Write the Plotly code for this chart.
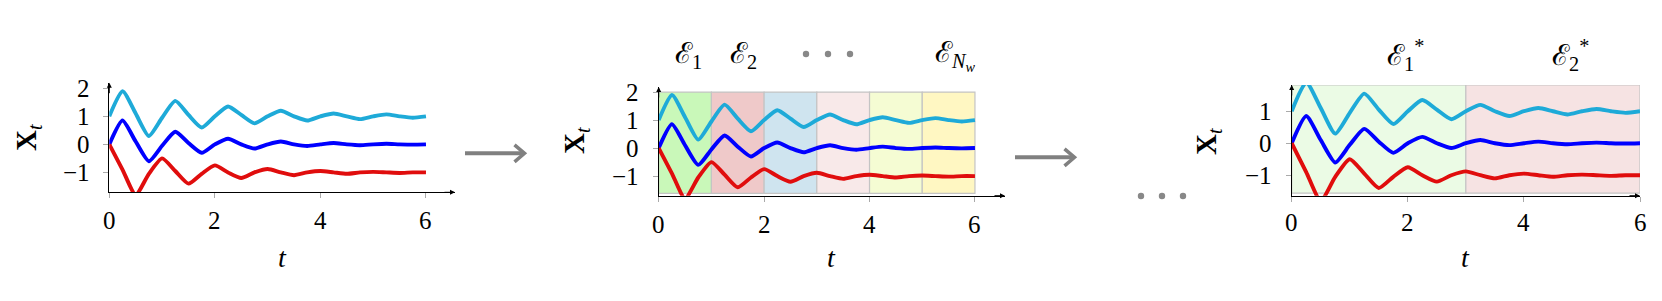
import plotly.graph_objects as go

# ---------------- data ----------------
t = [0.0, 0.25, 0.5, 0.75, 1.0, 1.25, 1.5, 1.75, 2.0, 2.25, 2.5, 2.75, 3.0,
     3.25, 3.5, 3.75, 4.0, 4.25, 4.5, 4.75, 5.0, 5.25, 5.5, 5.75, 6.0]
x_cyan = [1.0, 1.9, 1.1, 0.3, 0.95, 1.55, 1.05, 0.6, 1.0, 1.35, 1.05, 0.75, 1.0,
          1.2, 1.0, 0.85, 1.0, 1.1, 1.0, 0.9, 1.0, 1.07, 1.0, 0.95, 1.0]
x_blue = [0.0, 0.85, 0.1, -0.6, -0.05, 0.45, 0.05, -0.3, 0.0, 0.2, 0.0, -0.15, 0.0,
          0.1, 0.0, -0.06, 0.0, 0.05, 0.0, -0.03, 0.0, 0.02, 0.0, -0.01, 0.0]
x_red = [0.0, -0.9, -1.8, -1.05, -0.5, -0.95, -1.4, -1.05, -0.75, -1.0, -1.2, -1.0, -0.88,
         -1.0, -1.1, -1.0, -0.95, -1.0, -1.05, -1.0, -0.98, -1.0, -1.02, -1.0, -1.0]

x_ticks = [0, 2, 4, 6]
x_tick_text = ["0", "2", "4", "6"]
y_ticks_a = [-1, 0, 1, 2]
y_tick_text_a = ["−1", "0", "1", "2"]
y_ticks_c = [-1, 0, 1]
y_tick_text_c = ["−1", "0", "1"]

win_start = [0, 1, 2, 3, 4, 5]
win_end = [1, 2, 3, 4, 5, 6]
win_colors = ["#c9f8b9", "#efc9c9", "#cfe4ef", "#f8e9e9", "#f5fcd3", "#fff7c2"]

seg_start = [0, 3]
seg_end = [3, 6]
seg_colors = ["#ebfbe5", "#f6e3e3"]

# ---------------- layout helpers ----------------
PAGE_W, PAGE_H = 1662, 301
OFF = 8  # default body margin of the html page
W, H = PAGE_W - 2 * OFF, PAGE_H - 2 * OFF
def px(x):
    return (x - OFF) / W
def py(y):
    return 1 - (y - OFF) / H

FAM = "Liberation Serif"
def F(size, color="black"):
    return dict(family=FAM, size=size, color=color)

C_CYAN, C_BLUE, C_RED = "#1eaad8", "#0000ff", "#e00d0d"

panels = [
    dict(xd=(109.3, 455.0), yd=(82.7, 192.3), xr=[0, 6.55], yr=[-1.71, 2.2],
         yt=y_ticks_a, ytt=y_tick_text_a, xs=-28, ys=-17),
    dict(xd=(658.7, 1005.0), yd=(87.0, 195.7), xr=[0, 6.57], yr=[-1.70, 2.18],
         yt=y_ticks_a, ytt=y_tick_text_a, xs=-29, ys=-18),
    dict(xd=(1291.7, 1640.0), yd=(85.0, 195.7), xr=[0, 6.0], yr=[-1.64, 1.82],
         yt=y_ticks_c, ytt=y_tick_text_c, xs=-27, ys=-18),
]

fig = go.Figure()
layout = dict(width=W, height=H, margin=dict(l=0, r=0, t=0, b=0),
              plot_bgcolor="white", paper_bgcolor="white", showlegend=False,
              font=F(24))
annotations = []
shapes = []

for i, p in enumerate(panels):
    k = "" if i == 0 else str(i + 1)
    xa, ya = "x" + k, "y" + k
    for ys, col in ((x_cyan, C_CYAN), (x_blue, C_BLUE), (x_red, C_RED)):
        fig.add_trace(go.Scatter(x=t, y=ys, mode="lines", xaxis=xa, yaxis=ya,
                                 line=dict(color=col, width=3.9, shape="spline", smoothing=0.6),
                                 hoverinfo="skip"))
    layout["xaxis" + k] = dict(domain=[px(p["xd"][0]), px(p["xd"][1])], range=p["xr"],
                               anchor=ya, showgrid=False, zeroline=False, showline=True,
                               linecolor="black", linewidth=1, ticks="outside", ticklen=5,
                               tickcolor="#aaaaaa", tickwidth=1, tickvals=x_ticks,
                               showticklabels=False)
    layout["yaxis" + k] = dict(domain=[py(p["yd"][1]), py(p["yd"][0])], range=p["yr"],
                               anchor=xa, showgrid=False, zeroline=False, showline=True,
                               linecolor="black", linewidth=1, ticks="outside", ticklen=5,
                               tickcolor="#aaaaaa", tickwidth=1, tickvals=p["yt"],
                               showticklabels=False)
    for v, s in zip(x_ticks, x_tick_text):
        annotations.append(dict(x=v, y=p["yr"][0], xref=xa, yref=ya, text=s, showarrow=False,
                                yshift=p["xs"], xanchor="center", yanchor="middle", font=F(25)))
    for v, s in zip(p["yt"], p["ytt"]):
        annotations.append(dict(x=0, y=v, xref=xa, yref=ya, text=s, showarrow=False,
                                xshift=p["ys"], xanchor="right", yanchor="middle", font=F(25)))
    annotations.append(dict(x=p["xr"][1], y=p["yr"][0], xref=xa, yref=ya, ax=-12, ay=0,
                            showarrow=True, arrowhead=2, arrowsize=1, arrowwidth=1,
                            arrowcolor="black", text=""))
    annotations.append(dict(x=0, y=p["yr"][1], xref=xa, yref=ya, ax=0, ay=12,
                            showarrow=True, arrowhead=2, arrowsize=1, arrowwidth=1,
                            arrowcolor="black", text=""))
    annotations.append(dict(x=(px(p["xd"][0]) + px(p["xd"][1])) / 2, y=py(257), xref="paper",
                            yref="paper", text="<i>t</i>", showarrow=False,
                            font=F(28), xanchor="center", yanchor="middle"))

ylab_pos = [(28, 137), (576, 140), (1208, 141)]
for (x0, y0) in ylab_pos:
    annotations.append(dict(x=px(x0), y=py(y0), xref="paper", yref="paper",
                            text="<b>X</b><sub><i>t</i></sub>", showarrow=False, textangle=-90,
                            font=F(29), xanchor="center", yanchor="middle"))

for s, e, c in zip(win_start, win_end, win_colors):
    shapes.append(dict(type="rect", xref="x2", yref="y2", x0=s, x1=e, y0=-1.62, y1=2.0,
                       fillcolor=c, line=dict(color="#c4c4c4", width=1.2), layer="below"))
for s, e, c in zip(seg_start, seg_end, seg_colors):
    shapes.append(dict(type="rect", xref="x3", yref="y3", x0=s, x1=e, y0=-1.56, y1=1.82,
                       fillcolor=c, line=dict(color="#c4c4c4", width=1.2), layer="below"))

elabels = [("ℰ<sub>1</sub>", 688), ("ℰ<sub>2</sub>", 743),
           ("ℰ<sub><i>N</i><sub><i>w</i></sub></sub>", 955),
           ("ℰ<sub>1</sub><sup>*</sup>", 1405), ("ℰ<sub>2</sub><sup>*</sup>", 1570)]
for txt, xc in elabels:
    annotations.append(dict(x=px(xc), y=py(55), xref="paper", yref="paper", text=txt,
                            showarrow=False, font=F(29), xanchor="center",
                            yanchor="middle"))

for (xc, yc) in [(806, 54), (828, 54), (850, 54), (1141, 196), (1162, 196), (1183, 196)]:
    r = 3.2
    shapes.append(dict(type="circle", xref="paper", yref="paper",
                       x0=px(xc - r), x1=px(xc + r), y0=py(yc + r), y1=py(yc - r),
                       fillcolor="#888888", line=dict(width=0)))

for (xs, xe, yc) in [(465, 524.5, 153.3), (1015, 1074.5, 157.3)]:
    shapes.append(dict(type="line", xref="paper", yref="paper", x0=px(xs), x1=px(xe - 1),
                       y0=py(yc), y1=py(yc), line=dict(color="#808080", width=4)))
    path = "M {a},{b} L {c},{d} L {e},{f}".format(a=px(xe - 10), b=py(yc - 8.5), c=px(xe),
                                                   d=py(yc), e=px(xe - 10), f=py(yc + 8.5))
    shapes.append(dict(type="path", xref="paper", yref="paper", path=path,
                       line=dict(color="#808080", width=3.5)))

layout["annotations"] = annotations
layout["shapes"] = shapes
fig.update_layout(**layout)
fig.write_html("out.html")
